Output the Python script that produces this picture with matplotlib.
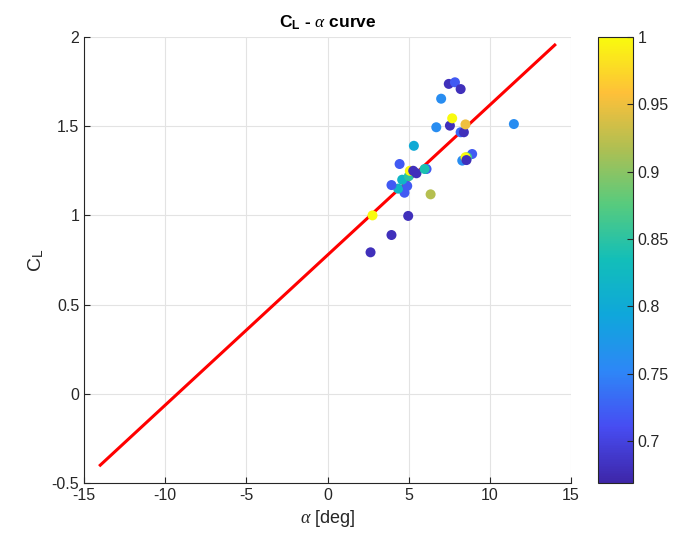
import numpy as np
import matplotlib
matplotlib.use("Agg")
import matplotlib.pyplot as plt
from matplotlib.colors import LinearSegmentedColormap

plt.rcParams["font.family"] = ["Liberation Sans", "DejaVu Sans"]
plt.rcParams["mathtext.fontset"] = "custom"
plt.rcParams["mathtext.rm"] = "Liberation Sans"
plt.rcParams["mathtext.bf"] = "Liberation Sans:bold"
plt.rcParams["mathtext.it"] = "Liberation Serif:italic"
plt.rcParams["axes.unicode_minus"] = False

# measured points: angle of attack [deg], lift coefficient, colour value
alpha = [2.65, 3.94, 4.97, 2.77, 6.35, 4.74, 4.35, 3.94, 4.91, 4.60,
         5.01, 5.07, 5.28, 5.48, 6.10, 5.98, 4.44, 5.32, 8.30, 8.91,
         8.60, 8.50, 8.56, 8.20, 8.40, 8.50, 7.54, 7.68, 6.70, 11.48,
         7.00, 7.47, 7.85, 8.20]
cl = [0.793, 0.890, 0.997, 1.000, 1.118, 1.127, 1.150, 1.170, 1.165, 1.200,
      1.220, 1.250, 1.250, 1.236, 1.260, 1.260, 1.288, 1.390, 1.307, 1.344,
      1.326, 1.326, 1.310, 1.466, 1.466, 1.510, 1.503, 1.544, 1.494, 1.512,
      1.654, 1.737, 1.746, 1.708]
cval = [0.68, 0.68, 0.68, 1.00, 0.92, 0.72, 0.82, 0.72, 0.72, 0.82,
        0.85, 1.00, 0.68, 0.68, 0.72, 0.84, 0.72, 0.80, 0.76, 0.72,
        0.86, 1.00, 0.68, 0.73, 0.68, 0.95, 0.68, 1.00, 0.76, 0.76,
        0.76, 0.68, 0.72, 0.68]

# fitted line endpoints
fit_alpha = [-14, 14]
fit_cl = [-0.40, 1.955]

cticks = [0.7, 0.75, 0.8, 0.85, 0.9, 0.95, 1.0]
ctick_labels = ["0.7", "0.75", "0.8", "0.85", "0.9", "0.95", "1"]

parula = LinearSegmentedColormap.from_list("parula", [
    (0.000, (0.2422, 0.1504, 0.6603)),
    (0.125, (0.2780, 0.3000, 0.9500)),
    (0.250, (0.1786, 0.5289, 0.9682)),
    (0.375, (0.0592, 0.6523, 0.8595)),
    (0.500, (0.0704, 0.7457, 0.7258)),
    (0.625, (0.3407, 0.7962, 0.4932)),
    (0.750, (0.6836, 0.7486, 0.3226)),
    (0.875, (0.9956, 0.7521, 0.2245)),
    (1.000, (0.9763, 0.9831, 0.0538)),
])

fig = plt.figure(figsize=(6.76, 5.43), dpi=100)
ax = fig.add_axes([0.1243, 0.1105, 0.7204, 0.8214])
cax = fig.add_axes([0.8846, 0.1105, 0.0518, 0.8214])

ax.plot(fit_alpha, fit_cl, color="red", lw=2.2, zorder=2)
sc = ax.scatter(alpha, cl, c=cval, cmap=parula, vmin=0.669, vmax=1.0,
                s=52, edgecolors="none", zorder=3)

ax.set_xlim(-15, 15)
ax.set_ylim(-0.5, 2)
ax.set_xticks(np.arange(-15, 16, 5))
ax.set_yticks(np.arange(-0.5, 2.01, 0.5))
ax.set_yticklabels(["-0.5", "0", "0.5", "1", "1.5", "2"])
ax.grid(True, color="#e3e3e3", lw=0.8)
ax.set_axisbelow(True)
for sp in ("top", "right"):
    ax.spines[sp].set_visible(False)
for sp in ("left", "bottom"):
    ax.spines[sp].set_color("#262626")
    ax.spines[sp].set_linewidth(0.8)
ax.tick_params(direction="in", labelsize=11.5, colors="#262626", length=4)

ax.set_xlabel(r"$\alpha$ [deg]", fontsize=13, color="#262626")
ax.set_ylabel(r"C$_{\mathrm{L}}$", fontsize=14, color="#262626")
ax.set_title(r"C$_{\mathbf{L}}$ - $\alpha$ curve", fontsize=12.5,
             fontweight="bold", pad=7)

cb = fig.colorbar(sc, cax=cax)
cb.set_ticks(cticks)
cb.set_ticklabels(ctick_labels)
cb.outline.set_edgecolor("#262626")
cb.outline.set_linewidth(0.8)
cax.tick_params(direction="in", labelsize=11.5, colors="#262626", length=4)

fig.savefig("out.png", dpi=100)
